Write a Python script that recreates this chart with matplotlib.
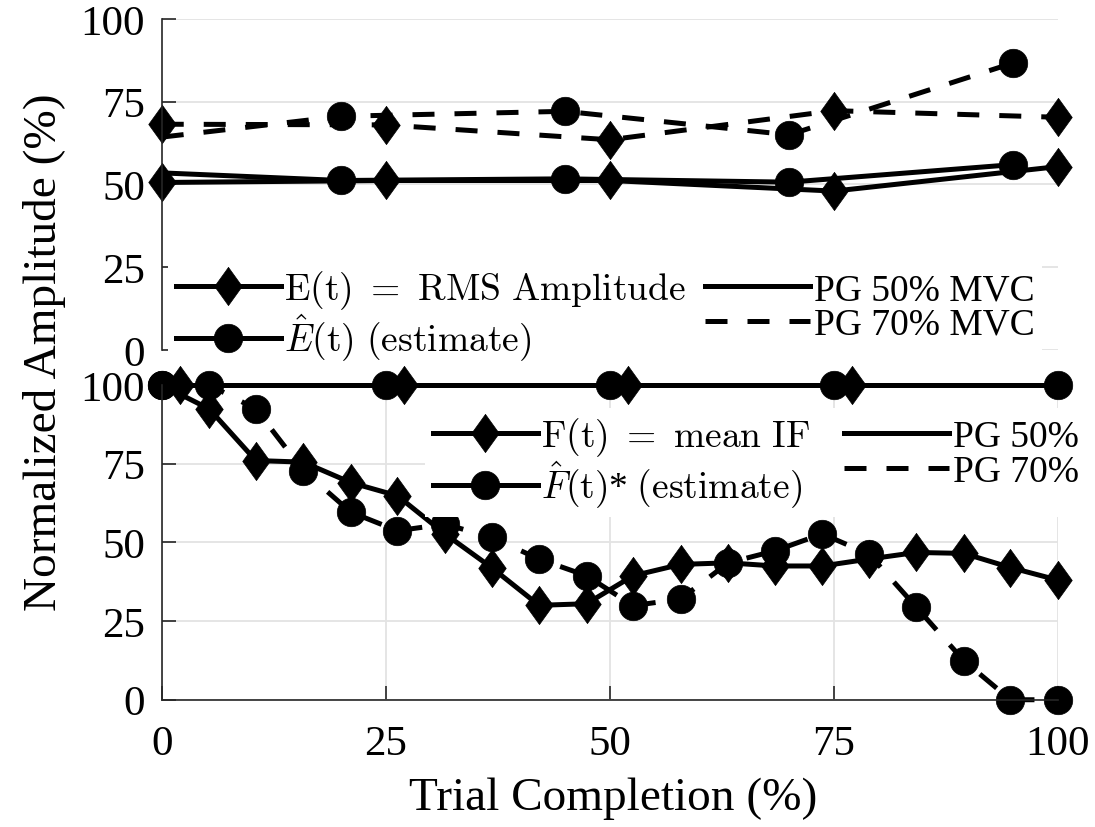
import numpy as np
import matplotlib
matplotlib.use('Agg')
import matplotlib.pyplot as plt
from matplotlib.lines import Line2D
from matplotlib.path import Path
from matplotlib.markers import MarkerStyle

plt.rcParams['font.family'] = 'Liberation Serif'
plt.rcParams['mathtext.fontset'] = 'cm'

#-- RMS amplitude (top panel)
xe_true = [0, 25, 50, 75, 100]
xe_est = [0, 20, 45, 70, 95]
e50_true = [50.6, 51.2, 51.2, 48.0, 55.4]
e50_est = [53.5, 51.2, 51.7, 50.7, 56.0]
e70_true = [68.2, 68.0, 63.5, 72.3, 70.3]
e70_est = [64.3, 70.6, 72.1, 65.0, 86.7]

#-- mean instantaneous frequency (bottom panel)
xf = [0, 5.3, 10.5, 15.8, 21.1, 26.3, 31.6, 36.8, 42.1, 47.4,
      52.6, 57.9, 63.2, 68.4, 73.7, 78.9, 84.2, 89.5, 94.7, 100]
f_true = [100, 92.4, 76.0, 75.5, 69.0, 64.8, 52.7, 42.0, 30.0, 30.5,
          39.4, 43.0, 43.5, 42.5, 42.5, 44.7, 46.8, 46.5, 42.0, 38.0]
f_est = [100, 100, 92.4, 72.8, 59.6, 53.7, 55.8, 51.6, 44.7, 39.4,
         29.9, 32.0, 43.5, 47.3, 52.7, 46.3, 29.4, 12.4, 0, 0]
xf_ref_est = [0, 25, 50, 75, 100]
f_ref_est = [100, 100, 100, 100, 100]
xf_ref_true = [2, 27, 52, 77]
f_ref_true = [100, 100, 100, 100]

ticks = [0, 25, 50, 75, 100]

# tall diamond marker
diamond = MarkerStyle(Path([(0, 1), (0.72, 0), (0, -1), (-0.72, 0), (0, 1)]))
lw = 3.6
dash = (0, (4.4, 4.0))
dm = dict(marker=diamond, markersize=27.5, color='black', mec='black', mew=0.5)
cm_ = dict(marker='o', markersize=20.5, color='black', mec='black', mew=0.5)

fig = plt.figure(figsize=(10.95, 8.28), dpi=100)
ax1 = fig.add_axes([0.1477, 0.5761, 0.8185, 0.3998])
ax2 = fig.add_axes([0.1477, 0.1537, 0.8185, 0.3801])

# top panel
ax1.plot(xe_est, e50_est, lw=lw, markevery=[1, 2, 3, 4], **cm_)
ax1.plot(xe_true, e50_true, lw=lw, **dm)
ax1.plot(xe_est, e70_est, lw=lw, ls=dash, markevery=[1, 2, 3, 4], **cm_)
ax1.plot(xe_true, e70_true, lw=lw, ls=dash, **dm)

# bottom panel
ax2.plot(xf_ref_est, f_ref_est, lw=lw, **cm_)
ax2.plot(xf_ref_true, f_ref_true, lw=lw, **dm)
ax2.plot(xf, f_est, lw=lw, ls=dash, **cm_)
ax2.plot(xf, f_true, lw=lw, markevery=list(range(1, 20)), **dm)

for ax in (ax1, ax2):
    ax.set_xlim(0, 100)
    ax.set_ylim(0, 100)
    ax.set_yticks(ticks)
    ax.set_xticks(ticks)
    ax.tick_params(direction='in', length=10, width=1.2, labelsize=31,
                   color='#262626', pad=12)
    for s in ('top', 'right'):
        ax.spines[s].set_visible(False)
    ax.spines['left'].set_color('#262626')
    ax.spines['left'].set_linewidth(1.2)
    ax.set_axisbelow(True)

ax1.spines['bottom'].set_visible(False)
ax1.tick_params(axis='x', bottom=False, labelbottom=False)
ax1.grid(axis='y', color='#e3e3e3', lw=1.3)
ax2.spines['bottom'].set_color('#262626')
ax2.spines['bottom'].set_linewidth(1.2)
ax2.tick_params(axis='x', pad=18)
ax2.grid(color='#e3e3e3', lw=1.3)
for ax in (ax1, ax2):
    for ln in ax.lines:
        ln.set_dash_capstyle('butt')
        ln.set_clip_on(False)

# legends
def leg_line(marker=None, ls='-'):
    kw = dm if marker == 'd' else cm_ if marker == 'o' else dict(color='black')
    return Line2D([], [], lw=lw, ls=ls, dash_capstyle='butt', **kw)

leg_style = dict(prop={'family': 'Liberation Serif', 'size': 27}, ncol=2,
                 frameon=True, facecolor='white', edgecolor='none', framealpha=1,
                 fancybox=False, handlelength=2.8, handletextpad=0.1,
                 labelspacing=0.0, borderpad=0.2,
                 borderaxespad=0, numpoints=1, loc='upper left',
                 bbox_transform=fig.transFigure)

h_top = [leg_line('d'), leg_line('o'), leg_line(), leg_line(ls=dash)]
l_top = [r'$\mathrm{E(t)}\ =\ \mathrm{RMS\ Amplitude}$',
         r'$\hat{E}\mathrm{(t)\ (estimate)}$',
         'PG 50% MVC', 'PG 70% MVC']
lg1 = ax1.legend(h_top, l_top, bbox_to_anchor=(168 / 1095, 1 - 262 / 828),
                 columnspacing=0.5, **leg_style)

h_bot = [leg_line('d'), leg_line('o'), leg_line(), leg_line(ls=dash)]
l_bot = [r'$\mathrm{F(t)}\ =\ \mathrm{mean\ IF}$',
         r'$\hat{F}\mathrm{(t)}$* $\mathrm{(estimate)}$',
         'PG 50%', 'PG 70%']
lg2 = ax2.legend(h_bot, l_bot, bbox_to_anchor=(425 / 1095, 1 - 409 / 828),
                 columnspacing=0.9, **leg_style)

fig.text(0.041, 0.575, 'Normalized Amplitude (%)', rotation=90,
         ha='center', va='center', fontsize=34)
fig.text(0.56, 0.035, 'Trial Completion (%)', ha='center', va='center', fontsize=34)

fig.savefig('out.png', dpi=100)
